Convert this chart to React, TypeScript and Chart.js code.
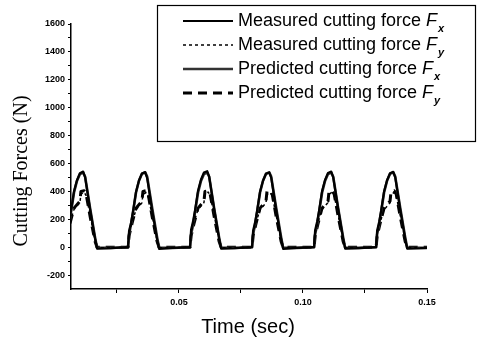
import React, { useEffect, useRef } from "react";
import { Chart, registerables } from "chart.js";

Chart.register(...registerables);

// ---------- data ----------
const fxTime = [
  0.0045, 0.0049, 0.0057, 0.0065, 0.0077, 0.0089, 0.0101, 0.0114, 0.0122, 0.0142, 0.0162, 0.0170, 0.0225,
  0.0295, 0.0299, 0.0307, 0.0315, 0.0327, 0.0339, 0.0351, 0.0364, 0.0372, 0.0392, 0.0412, 0.0420, 0.0475,
  0.0545, 0.0549, 0.0557, 0.0565, 0.0577, 0.0589, 0.0601, 0.0614, 0.0622, 0.0642, 0.0662, 0.0670, 0.0725,
  0.0795, 0.0799, 0.0807, 0.0815, 0.0827, 0.0839, 0.0851, 0.0864, 0.0872, 0.0892, 0.0912, 0.0920, 0.0975,
  0.1045, 0.1049, 0.1057, 0.1065, 0.1077, 0.1089, 0.1101, 0.1114, 0.1122, 0.1142, 0.1162, 0.1170, 0.1225,
  0.1295, 0.1299, 0.1307, 0.1315, 0.1327, 0.1339, 0.1351, 0.1364, 0.1372, 0.1392, 0.1412, 0.1420, 0.1475, 0.1500,
];
const measuredFx = [
  0, 120, 180, 260, 400, 480, 530, 542, 500, 270, 60, -10, -8,
  0, 115, 175, 255, 395, 478, 528, 538, 495, 265, 55, -12, -6,
  0, 125, 185, 265, 405, 485, 535, 545, 505, 275, 62, -10, -8,
  0, 118, 178, 258, 398, 476, 526, 536, 498, 268, 58, -12, -5,
  0, 122, 182, 262, 402, 482, 532, 542, 500, 272, 60, -10, -7,
  0, 120, 180, 260, 400, 480, 530, 540, 500, 270, 60, -10, -8, -6,
];
const predictedFx = [
  0, 90, 160, 250, 390, 475, 525, 535, 505, 280, 70, -5, -5,
  0, 92, 162, 252, 392, 476, 526, 536, 506, 282, 72, -5, -5,
  0, 90, 160, 250, 390, 475, 525, 535, 505, 280, 70, -5, -5,
  0, 92, 162, 252, 392, 476, 526, 536, 506, 282, 72, -5, -5,
  0, 90, 160, 250, 390, 475, 525, 535, 505, 280, 70, -5, -5,
  0, 92, 162, 252, 392, 476, 526, 536, 506, 282, 72, -5, -5, -5,
];
const fyTime = [
  0.0045, 0.0049, 0.0061, 0.0077, 0.0101, 0.0105, 0.0118, 0.0126, 0.0142, 0.0162, 0.0170, 0.0225,
  0.0295, 0.0299, 0.0311, 0.0327, 0.0351, 0.0355, 0.0368, 0.0376, 0.0392, 0.0412, 0.0420, 0.0475,
  0.0545, 0.0549, 0.0561, 0.0577, 0.0601, 0.0605, 0.0618, 0.0626, 0.0642, 0.0662, 0.0670, 0.0725,
  0.0795, 0.0799, 0.0811, 0.0827, 0.0851, 0.0855, 0.0868, 0.0876, 0.0892, 0.0912, 0.0920, 0.0975,
  0.1045, 0.1049, 0.1061, 0.1077, 0.1101, 0.1105, 0.1118, 0.1126, 0.1142, 0.1162, 0.1170, 0.1225,
  0.1295, 0.1299, 0.1311, 0.1327, 0.1351, 0.1355, 0.1368, 0.1376, 0.1392, 0.1412, 0.1420, 0.1475, 0.1500,
];
const measuredFy = [
  0, 100, 180, 270, 320, 380, 395, 370, 230, 50, -5, -5,
  0, 98, 178, 268, 318, 378, 392, 368, 228, 48, -5, -5,
  0, 100, 180, 270, 320, 380, 395, 370, 230, 50, -5, -5,
  0, 98, 178, 268, 318, 378, 392, 368, 228, 48, -5, -5,
  0, 100, 180, 270, 320, 380, 395, 370, 230, 50, -5, -5,
  0, 98, 178, 268, 318, 378, 392, 368, 228, 48, -5, -5, -5,
];
const predictedFy = [
  0, 80, 170, 280, 330, 400, 405, 380, 220, 40, 0, 0,
  0, 80, 170, 280, 330, 400, 405, 380, 220, 40, 0, 0,
  0, 80, 170, 280, 330, 400, 405, 380, 220, 40, 0, 0,
  0, 80, 170, 280, 330, 400, 405, 380, 220, 40, 0, 0,
  0, 80, 170, 280, 330, 400, 405, 380, 220, 40, 0, 0,
  0, 80, 170, 280, 330, 400, 405, 380, 220, 40, 0, 0, 0,
];
const xTickValues = [0.025, 0.05, 0.075, 0.1, 0.125, 0.15];
const xTickLabels = ["", "0.05", "", "0.10", "", "0.15"];
const yTickValues = [-200, -100, 0, 100, 200, 300, 400, 500, 600, 700, 800, 900, 1000, 1100, 1200, 1300, 1400, 1500, 1600];
const legendLabels = ["Measured cutting force ", "Measured cutting force ", "Predicted cutting force ", "Predicted cutting force "];
const legendSubs = ["x", "y", "x", "y"];
const xTitle = "Time (sec)";
const yTitle = "Cutting Forces (N)";

const SANS = "'Liberation Sans', Arial, sans-serif";
const SERIF = "'Liberation Serif', 'Times New Roman', serif";

const styles = [
  { color: "#000", width: 2.2, dash: [] as number[] },
  { color: "#000", width: 1.5, dash: [3, 3] },
  { color: "#333", width: 2.6, dash: [] as number[] },
  { color: "#000", width: 3, dash: [9, 6] },
];

const overlayPlugin = {
  id: "overlay",
  afterDraw(chart: any) {
    const ctx = chart.ctx as CanvasRenderingContext2D;
    ctx.save();
    // axis titles
    ctx.fillStyle = "#000";
    ctx.textAlign = "center";
    ctx.textBaseline = "middle";
    ctx.font = `20px ${SANS}`;
    ctx.fillText(xTitle, 248, 327);
    ctx.save();
    ctx.translate(22, 171);
    ctx.rotate(-Math.PI / 2);
    ctx.font = `20px ${SERIF}`;
    ctx.fillText(yTitle, 0, 0);
    ctx.restore();

    // legend box
    ctx.fillStyle = "#fff";
    ctx.fillRect(157, 5, 319, 137);
    ctx.strokeStyle = "#000";
    ctx.lineWidth = 1.2;
    ctx.setLineDash([]);
    ctx.strokeRect(157.5, 5.5, 318, 136);
    for (let i = 0; i < 4; i++) {
      const y = 21 + i * 24;
      const st = styles[i];
      ctx.strokeStyle = st.color;
      ctx.lineWidth = st.width;
      ctx.setLineDash(st.dash);
      ctx.beginPath();
      ctx.moveTo(183, y);
      ctx.lineTo(233, y);
      ctx.stroke();
      ctx.setLineDash([]);
      ctx.fillStyle = "#000";
      ctx.textAlign = "left";
      ctx.textBaseline = "middle";
      ctx.font = `18px ${SANS}`;
      ctx.fillText(legendLabels[i], 238, y);
      let x = 238 + ctx.measureText(legendLabels[i]).width;
      ctx.font = `italic 18px ${SANS}`;
      ctx.fillText("F", x, y);
      x += ctx.measureText("F").width;
      ctx.font = `italic bold 11px ${SANS}`;
      ctx.fillText(legendSubs[i], x + 1, y + 8);
    }
    ctx.restore();
  },
};

export default function App() {
  const ref = useRef<HTMLCanvasElement>(null);
  useEffect(() => {
    document.body.style.margin = "0";
    const mk = (t: number[], v: number[]) => t.map((x, i) => ({ x, y: v[i] }));
    const series = [
      { label: "Measured Fx", data: mk(fxTime, measuredFx) },
      { label: "Measured Fy", data: mk(fyTime, measuredFy) },
      { label: "Predicted Fx", data: mk(fxTime, predictedFx) },
      { label: "Predicted Fy", data: mk(fyTime, predictedFy) },
    ];
    const datasets = series.map((s, i) => ({
      label: s.label,
      data: s.data,
      borderColor: styles[i].color,
      borderWidth: styles[i].width,
      borderDash: styles[i].dash,
      pointRadius: 0,
      tension: 0,
      fill: false,
      borderJoinStyle: "round" as const,
    }));
    const tickFont = { family: SANS, size: 9, weight: "bold" as const };
    const chart = new Chart(ref.current!, {
      type: "line",
      data: { datasets },
      plugins: [overlayPlugin],
      options: {
        responsive: false,
        animation: false,
        devicePixelRatio: 1,
        layout: { padding: { left: 0, right: 52, top: 24, bottom: 0 } },
        plugins: { legend: { display: false }, tooltip: { enabled: false } },
        scales: {
          x: {
            type: "linear",
            min: 0.0065,
            max: 0.15,
            afterBuildTicks: (s: any) => {
              s.ticks = xTickValues.map((value) => ({ value }));
            },
            afterFit: (s: any) => {
              s.height = 51;
            },
            ticks: {
              autoSkip: false,
              maxRotation: 0,
              padding: 4,
              color: "#000",
              font: tickFont,
              callback: (_v: any, i: number) => xTickLabels[i],
            },
            grid: { drawOnChartArea: false, drawTicks: true, tickLength: 4, tickColor: "#000" },
            border: { display: true, color: "#000", width: 1.5 },
          },
          y: {
            type: "linear",
            min: -300,
            max: 1600,
            afterBuildTicks: (s: any) => {
              s.ticks = yTickValues.map((value) => ({ value }));
            },
            afterFit: (s: any) => {
              s.width = 71;
            },
            ticks: {
              autoSkip: false,
              padding: 3,
              color: "#000",
              font: tickFont,
              callback: (v: any) => (Number(v) % 200 === 0 ? String(v) : ""),
            },
            grid: { drawOnChartArea: false, drawTicks: true, tickLength: 3, tickColor: "#000" },
            border: { display: true, color: "#000", width: 1.5 },
          },
        },
      },
    });
    return () => chart.destroy();
  }, []);
  return (
    <div style={{ width: 479, height: 340, background: "#fff" }}>
      <canvas ref={ref} width={479} height={340} style={{ display: "block" }} />
    </div>
  );
}
